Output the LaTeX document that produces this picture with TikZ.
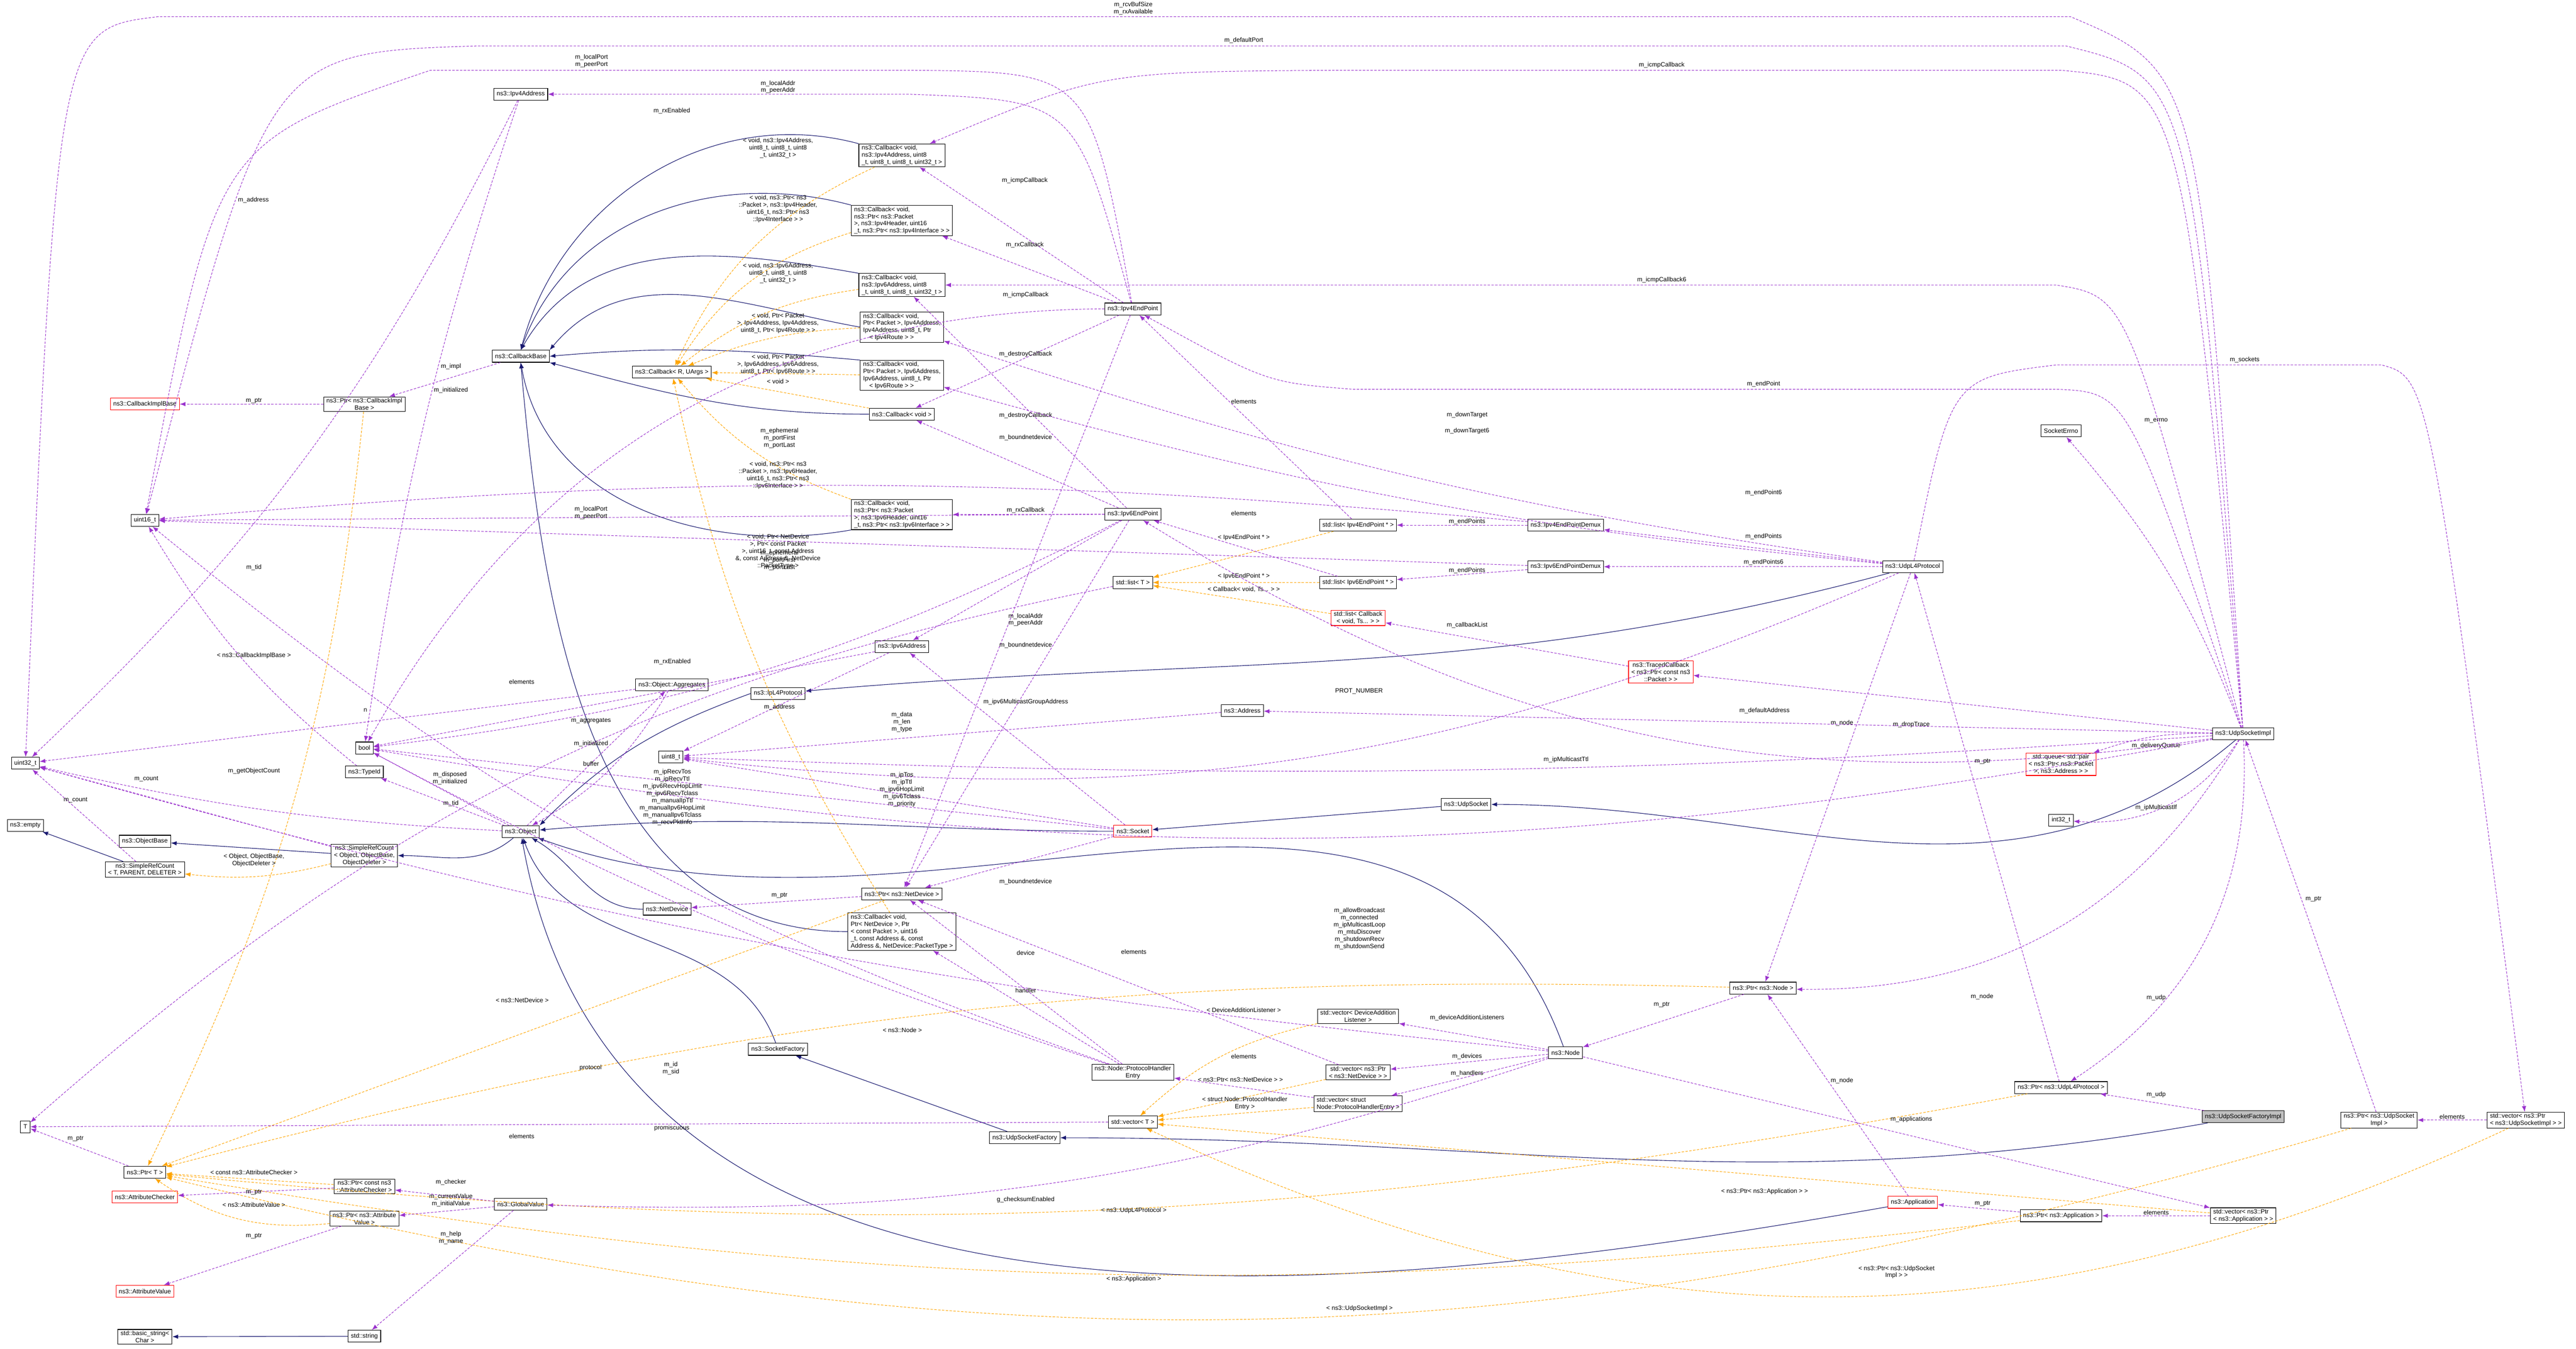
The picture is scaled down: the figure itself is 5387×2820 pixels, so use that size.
\documentclass[tikz,border=0pt]{standalone}
\usepackage{fontspec}
\setmainfont{Liberation Sans}
\usetikzlibrary{arrows.meta,calc}
\definecolor{inhcol}{HTML}{191970}
\definecolor{usecol}{HTML}{9A32CD}
\definecolor{tplcol}{HTML}{FFA500}
\newcommand{\fs}{\fontsize{1.3}{1.5}\selectfont}
% member / template edge with its label put where the diagram prints it
\newcommand{\rel}[6][]{\draw[#2] (#3) to[#1] (#4) node[lbl,at={(#5)}] {#6};}
\begin{document}
\begin{tikzpicture}[x=0.1pt,y=-0.1pt,
  box/.style={draw=black,fill=white,line width=0.12pt,inner xsep=0.6pt,inner ysep=0.3pt,
    minimum height=2.5pt,align=center,font=\fs},
  lbox/.style={box,align=left},
  redbox/.style={box,draw=red},
  lbl/.style={inner sep=0.1pt,align=center,font=\fs},
  inh/.style={draw=inhcol,line width=0.12pt,-{Latex[length=1.2pt,width=0.9pt]}},
  use/.style={draw=usecol,line width=0.11pt,dash pattern=on 0.5pt off 0.3pt,-{Latex[length=1.2pt,width=0.9pt]}},
  tpl/.style={draw=tplcol,line width=0.11pt,dash pattern=on 0.5pt off 0.3pt,-{Latex[length=1.2pt,width=0.9pt]}}]
  \useasboundingbox (0,0) rectangle (5387,2820);
  % classes
  \node[box] (cbbase) at (1089,745) {ns3::CallbackBase};
  \node[redbox] (cibase) at (303,845) {ns3::CallbackImplBase};
  \node[box] (ptrcib) at (762,845) {ns3::Ptr< ns3::CallbackImpl\\Base >};
  \node[box] (ip4addr) at (1089,197) {ns3::Ipv4Address};
  \node[box] (cbru) at (1405,778) {ns3::Callback< R, UArgs >};
  \node[lbox] (cb4icmp) at (1886,325) {ns3::Callback< void,\\ ns3::Ipv4Address, uint8\\\_t, uint8\_t, uint8\_t, uint32\_t >};
  \node[lbox] (cb4rx) at (1886,461) {ns3::Callback< void,\\ ns3::Ptr< ns3::Packet\\ >, ns3::Ipv4Header, uint16\\\_t, ns3::Ptr< ns3::Ipv4Interface > >};
  \node[lbox] (cb6icmp) at (1886,596) {ns3::Callback< void,\\ ns3::Ipv6Address, uint8\\\_t, uint8\_t, uint8\_t, uint32\_t >};
  \node[lbox] (cb4route) at (1886,684) {ns3::Callback< void,\\ Ptr< Packet >, Ipv4Address,\\ Ipv4Address, uint8\_t, Ptr\\ \quad< Ipv4Route > >};
  \node[lbox] (cb6route) at (1886,785) {ns3::Callback< void,\\ Ptr< Packet >, Ipv6Address,\\ Ipv6Address, uint8\_t, Ptr\\ \quad< Ipv6Route > >};
  \node[box] (cbvoid) at (1886,866) {ns3::Callback< void >};
  \node[lbox] (cb6rx) at (1886,1076) {ns3::Callback< void,\\ ns3::Ptr< ns3::Packet\\ >, ns3::Ipv6Header, uint16\\\_t, ns3::Ptr< ns3::Ipv6Interface > >};
  \node[lbox] (cbnet) at (1886,1948) {ns3::Callback< void,\\ Ptr< NetDevice >, Ptr\\< const Packet >, uint16\\\_t, const Address \&, const\\ Address \&, NetDevice::PacketType >};
  \node[box] (ep4) at (2369,646) {ns3::Ipv4EndPoint};
  \node[box] (ep6) at (2369,1075) {ns3::Ipv6EndPoint};
  \node[box] (listt) at (2369,1218) {std::list< T >};
  \node[box] (list4) at (2840,1098) {std::list< Ipv4EndPoint * >};
  \node[box] (demux4) at (3274,1098) {ns3::Ipv4EndPointDemux};
  \node[box] (demux6) at (3274,1185) {ns3::Ipv6EndPointDemux};
  \node[box] (list6) at (2840,1218) {std::list< Ipv6EndPoint * >};
  \node[redbox] (listcb) at (2840,1292) {std::list< Callback\\< void, Ts... > >};
  \node[redbox] (traced) at (3473,1405) {ns3::TracedCallback\\< ns3::Ptr< const ns3\\::Packet > >};
  \node[box] (udpl4) at (4000,1185) {ns3::UdpL4Protocol};
  \node[box] (errno) at (4310,901) {SocketErrno};
  \node[box] (usi) at (4691,1534) {ns3::UdpSocketImpl};
  \node[redbox] (queue) at (4310,1598) {std::queue< std::pair\\< ns3::Ptr< ns3::Packet\\ >, ns3::Address > >};
  \node[box] (int32) at (4310,1715) {int32\_t};
  \node[box] (udpsock) at (3066,1682) {ns3::UdpSocket};
  \node[box] (address) at (2598,1486) {ns3::Address};
  \node[box] (ip6addr) at (1886,1352) {ns3::Ipv6Address};
  \node[box] (ipl4) at (1627,1450) {ns3::IpL4Protocol};
  \node[box] (uint8) at (1403,1583) {uint8\_t};
  \node[box] (aggr) at (1405,1432) {ns3::Object::Aggregates};
  \node[redbox] (socket) at (2369,1738) {ns3::Socket};
  \node[box] (ptrnd) at (1886,1869) {ns3::Ptr< ns3::NetDevice >};
  \node[box] (netdev) at (1395,1901) {ns3::NetDevice};
  \node[box] (uint16) at (303,1088) {uint16\_t};
  \node[box] (uint32) at (53,1596) {uint32\_t};
  \node[box] (bool) at (762,1564) {bool};
  \node[box] (typeid) at (762,1614) {ns3::TypeId};
  \node[box] (object) at (1089,1739) {ns3::Object};
  \node[box] (empty) at (53,1726) {ns3::empty};
  \node[box] (objbase) at (303,1759) {ns3::ObjectBase};
  \node[box] (srct) at (303,1818) {ns3::SimpleRefCount\\< T, PARENT, DELETER >};
  \node[box] (srcobj) at (762,1789) {ns3::SimpleRefCount\\< Object, ObjectBase,\\ ObjectDeleter >};
  \node[box] (T) at (53,2356) {T};
  \node[box] (ptrt) at (303,2451) {ns3::Ptr< T >};
  \node[redbox] (attrchk) at (303,2503) {ns3::AttributeChecker};
  \node[box] (ptrac) at (762,2481) {ns3::Ptr< const ns3\\::AttributeChecker >};
  \node[box] (ptrav) at (762,2548) {ns3::Ptr< ns3::Attribute\\Value >};
  \node[box] (globalv) at (1089,2518) {ns3::GlobalValue};
  \node[redbox] (attrval) at (303,2700) {ns3::AttributeValue};
  \node[box] (bstring) at (303,2795) {std::basic\_string<\\ Char >};
  \node[box] (string) at (762,2794) {std::string};
  \node[box] (sockfac) at (1627,2194) {ns3::SocketFactory};
  \node[box] (phentry) at (2369,2242) {ns3::Node::ProtocolHandler\\Entry};
  \node[box] (vect) at (2369,2346) {std::vector< T >};
  \node[box] (udpsf) at (2143,2379) {ns3::UdpSocketFactory};
  \node[box] (vecdal) at (2840,2125) {std::vector< DeviceAddition\\Listener >};
  \node[box] (node) at (3274,2201) {ns3::Node};
  \node[box] (vecnd) at (2840,2242) {std::vector< ns3::Ptr\\< ns3::NetDevice > >};
  \node[lbox] (vecph) at (2840,2308) {std::vector< struct\\ Node::ProtocolHandlerEntry >};
  \node[box] (ptrnode) at (3687,2066) {ns3::Ptr< ns3::Node >};
  \node[redbox] (app) at (4000,2514) {ns3::Application};
  \node[box] (ptrudp) at (4310,2274) {ns3::Ptr< ns3::UdpL4Protocol >};
  \node[box,fill=black!25] (usfi) at (4691,2335) {ns3::UdpSocketFactoryImpl};
  \node[box] (ptrapp) at (4310,2542) {ns3::Ptr< ns3::Application >};
  \node[lbox] (vecapp) at (4691,2542) {std::vector< ns3::Ptr\\< ns3::Application > >};
  \node[box] (ptrusi) at (4975,2342) {ns3::Ptr< ns3::UdpSocket\\Impl >};
  \node[lbox] (vecusi) at (5282,2342) {std::vector< ns3::Ptr\\< ns3::UdpSocketImpl > >};
  % inheritance
  \draw[inh] (cb4icmp.north west) to[out=165,in=75] (cbbase.north);
  \draw[inh] (cb4rx.north west) to[out=165,in=70] (cbbase.north);
  \draw[inh] (cb6icmp.north west) to[out=170,in=60] (cbbase.north);
  \draw[inh] (cb4route.west) to[out=170,in=50] (cbbase.north east);
  \draw[inh] (cb6route.north west) to[out=175,in=5] (cbbase.east);
  \draw[inh] (cbvoid.west) to[out=180,in=-15] (cbbase.south east);
  \draw[inh] (cb6rx.south west) to[out=190,in=-80] (cbbase.south);
  \draw[inh] (cbnet.west) to[out=180,in=-85] (cbbase.south);
  \draw[inh] (object) to[out=-140,in=0] (srcobj);
  \draw[inh] (srcobj) -- (objbase);
  \draw[inh] (srct) -- (empty);
  \draw[inh] (ipl4.west) to[out=200,in=45] (object.north east);
  \draw[inh] (udpl4) to[out=-165,in=5] (ipl4);
  \draw[inh] (socket) to[out=180,in=5] (object);
  \draw[inh] (udpsock) -- (socket);
  \draw[inh] (usi) to[out=-140,in=0] (udpsock);
  \draw[inh] (netdev) to[out=180,in=-30] (object);
  \draw[inh] (sockfac) to[out=110,in=-70] (object);
  \draw[inh] (udpsf) -- (sockfac);
  \draw[inh] (usfi) to[out=190,in=0] (udpsf);
  \draw[inh] (node) to[out=110,in=-20] (object);
  \draw[inh] (app) to[out=190,in=-80] (object);
  \draw[inh] (string) -- (bstring);
  % template instances
  \rel[bend right=20]{tpl}{cb4icmp}{cbru}{1627,310}{< void, ns3::Ipv4Address,\\uint8\_t, uint8\_t, uint8\\\_t, uint32\_t >}
  \rel[bend right=20]{tpl}{cb4rx}{cbru}{1627,437}{< void, ns3::Ptr< ns3\\::Packet >, ns3::Ipv4Header,\\uint16\_t, ns3::Ptr< ns3\\::Ipv4Interface > >}
  \rel[bend right=15]{tpl}{cb6icmp}{cbru}{1627,571}{< void, ns3::Ipv6Address,\\uint8\_t, uint8\_t, uint8\\\_t, uint32\_t >}
  \rel[bend right=10]{tpl}{cb4route}{cbru}{1627,676}{< void, Ptr< Packet\\>, Ipv4Address, Ipv4Address,\\uint8\_t, Ptr< Ipv4Route > >}
  \rel{tpl}{cb6route}{cbru}{1627,762}{< void, Ptr< Packet\\>, Ipv6Address, Ipv6Address,\\uint8\_t, Ptr< Ipv6Route > >}
  \rel{tpl}{cbvoid}{cbru}{1627,797}{< void >}
  \rel[bend left=15]{tpl}{cb6rx}{cbru}{1627,994}{< void, ns3::Ptr< ns3\\::Packet >, ns3::Ipv6Header,\\uint16\_t, ns3::Ptr< ns3\\::Ipv6Interface > >}
  \rel[bend left=10]{tpl}{cbnet}{cbru}{1627,1153}{< void, Ptr< NetDevice\\>, Ptr< const Packet\\>, uint16\_t, const Address\\\&, const Address \&, NetDevice\\::PacketType >}
  \rel[bend left=10]{tpl}{ptrcib}{ptrt}{531,1371}{< ns3::CallbackImplBase >}
  \rel[bend left=10]{tpl}{srcobj}{srct}{531,1799}{< Object, ObjectBase,\\ObjectDeleter >}
  \rel{tpl}{ptrnd}{ptrt}{1092,2091}{< ns3::NetDevice >}
  \rel{tpl}{ptrac}{ptrt}{531,2451}{< const ns3::AttributeChecker >}
  \rel[bend left=20]{tpl}{ptrav}{ptrt}{531,2519}{< ns3::AttributeValue >}
  \rel[bend right=8]{tpl}{ptrnode}{ptrt}{1887,2154}{< ns3::Node >}
  \rel[bend left=8]{tpl}{ptrudp}{ptrt}{2371,2531}{< ns3::UdpL4Protocol >}
  \rel[bend left=8]{tpl}{ptrapp}{ptrt}{2371,2675}{< ns3::Application >}
  \rel[bend left=15]{tpl}{ptrusi}{ptrt}{2843,2736}{< ns3::UdpSocketImpl >}
  \rel[bend left=25]{tpl}{vecusi}{vect}{3966,2660}{< ns3::Ptr< ns3::UdpSocket\\Impl > >}
  \rel{tpl}{vecapp}{vect}{3690,2491}{< ns3::Ptr< ns3::Application > >}
  \rel[bend right=15]{tpl}{vecdal}{vect}{2601,2112}{< DeviceAdditionListener >}
  \rel{tpl}{vecnd}{vect}{2594,2257}{< ns3::Ptr< ns3::NetDevice > >}
  \rel{tpl}{vecph}{vect}{2603,2307}{< struct Node::ProtocolHandler\\Entry >}
  \rel{tpl}{list4}{listt}{2601,1124}{< Ipv4EndPoint * >}
  \rel{tpl}{list6}{listt}{2601,1205}{< Ipv6EndPoint * >}
  \rel{tpl}{listcb}{listt}{2601,1232}{< Callback< void, Ts... > >}
  % members
  \rel{use}{ptrcib}{cibase}{531,838}{m\_ptr}
  \rel{use}{cbbase}{ptrcib}{943,766}{m\_impl}
  \rel[bend left=10]{use}{ip4addr}{uint32}{530,418}{m\_address}
  \rel[bend right=5]{use}{ip4addr}{bool}{943,816}{m\_initialized}
  \rel[bend right=30]{use}{ep4}{bool}{1405,232}{m\_rxEnabled}
  \rel{use}{ep4}{cb4icmp}{2143,378}{m\_icmpCallback}
  \rel{use}{ep4}{cb4rx}{2143,512}{m\_rxCallback}
  \rel{use}{ep4}{cbvoid}{2145,741}{m\_destroyCallback}
  \rel{use}{ep4}{ptrnd}{2145,915}{m\_boundnetdevice}
  \rel{use}{ep6}{cb6icmp}{2145,617}{m\_icmpCallback}
  \rel{use}{ep6}{cb6rx}{2145,1067}{m\_rxCallback}
  \rel{use}{ep6}{cbvoid}{2145,869}{m\_destroyCallback}
  \rel{use}{ep6}{ptrnd}{2145,1349}{m\_boundnetdevice}
  \rel{use}{ep6}{ip6addr}{2145,1296}{m\_localAddr\\m\_peerAddr}
  \rel{use}{ep6}{uint16}{1236,1072}{m\_localPort\\m\_peerPort}
  \rel[bend left=10]{use}{ep6}{bool}{1406,1384}{m\_rxEnabled}
  \rel{use}{list4}{ep4}{2601,839}{elements}
  \rel{use}{list6}{ep6}{2601,1073}{elements}
  \rel{use}{demux4}{list4}{3068,1091}{m\_endPoints}
  \rel{use}{demux6}{list6}{3068,1193}{m\_endPoints}
  \rel[bend right=5]{use}{demux4}{uint16}{1630,916}{m\_ephemeral\\m\_portFirst\\m\_portLast}
  \rel{use}{demux6}{uint16}{1630,1172}{m\_ephemeral\\m\_portFirst\\m\_portLast}
  \rel{use}{udpl4}{demux4}{3688,1122}{m\_endPoints}
  \rel{use}{udpl4}{demux6}{3688,1176}{m\_endPoints6}
  \rel[bend left=5]{use}{udpl4}{cb4route}{3068,868}{m\_downTarget}
  \rel[bend left=5]{use}{udpl4}{cb6route}{3068,901}{m\_downTarget6}
  \rel[bend left=15]{use}{udpl4}{uint8}{2842,1445}{PROT\_NUMBER}
  \rel{use}{udpl4}{ptrnode}{3852,1512}{m\_node}
  \rel{use}{traced}{listcb}{3068,1307}{m\_callbackList}
  \rel{use}{usi}{traced}{3997,1515}{m\_dropTrace}
  \rel{use}{usi}{address}{3690,1486}{m\_defaultAddress}
  \rel[bend left=3]{use}{usi}{uint8}{3275,1588}{m\_ipMulticastTtl}
  \rel[bend left=30]{use}{usi}{int32}{4509,1689}{m\_ipMulticastIf}
  \rel[bend right=10]{use}{usi}{queue}{4509,1559}{m\_deliveryQueue}
  \rel[bend right=10]{use}{usi}{errno}{4509,880}{m\_errno}
  \rel[bend left=20]{use}{usi}{ep6}{3688,1030}{m\_endPoint6}
  \rel[bend left=30]{use}{usi}{ptrudp}{4509,2086}{m\_udp}
  \rel{use}{usfi}{ptrudp}{4509,2289}{m\_udp}
  \rel[bend left=30]{use}{usi}{ptrnode}{4145,2084}{m\_node}
  \rel[bend left=10]{use}{usi}{bool}{2843,1942}{m\_allowBroadcast\\m\_connected\\m\_ipMulticastLoop\\m\_mtuDiscover\\m\_shutdownRecv\\m\_shutdownSend}
  \rel{use}{ptrudp}{udpl4}{4146,1592}{m\_ptr}
  \rel{use}{ptrusi}{usi}{4838,1880}{m\_ptr}
  \rel{use}{vecusi}{ptrusi}{5128,2335}{elements}
  \rel{use}{ptrapp}{app}{4146,2517}{m\_ptr}
  \rel{use}{vecapp}{ptrapp}{4509,2535}{elements}
  \rel{use}{node}{vecapp}{3997,2341}{m\_applications}
  \rel{use}{app}{ptrnode}{3852,2260}{m\_node}
  \rel{use}{ptrnode}{node}{3475,2101}{m\_ptr}
  \rel{use}{node}{vecdal}{3068,2128}{m\_deviceAdditionListeners}
  \rel{use}{node}{vecnd}{3068,2209}{m\_devices}
  \rel{use}{node}{vecph}{3068,2245}{m\_handlers}
  \rel[bend left=5]{use}{node}{uint32}{1403,2234}{m\_id\\m\_sid}
  \rel[bend left=10]{use}{node}{globalv}{2145,2509}{g\_checksumEnabled}
  \rel{use}{vecnd}{ptrnd}{2371,1990}{elements}
  \rel{use}{vecph}{phentry}{2601,2209}{elements}
  \rel{use}{phentry}{cbnet}{2145,2071}{handler}
  \rel{use}{phentry}{ptrnd}{2145,1992}{device}
  \rel[bend left=5]{use}{phentry}{bool}{1405,2359}{promiscuous}
  \rel[bend left=10]{use}{phentry}{uint16}{1235,2233}{protocol}
  \rel{use}{vect}{T}{1091,2376}{elements}
  \rel[bend right=15]{use}{listt}{T}{1091,1426}{elements}
  \rel{use}{ptrt}{T}{158,2381}{m\_ptr}
  \rel{use}{ptrac}{attrchk}{531,2493}{m\_ptr}
  \rel{use}{ptrav}{attrval}{531,2584}{m\_ptr}
  \rel{use}{globalv}{ptrac}{943,2472}{m\_checker}
  \rel{use}{globalv}{ptrav}{943,2510}{m\_currentValue\\m\_initialValue}
  \rel{use}{globalv}{string}{943,2588}{m\_help\\m\_name}
  \rel{use}{ptrnd}{netdev}{1630,1872}{m\_ptr}
  \rel{use}{socket}{ptrnd}{2145,1844}{m\_boundnetdevice}
  \rel{use}{socket}{ip6addr}{2145,1468}{m\_ipv6MulticastGroupAddress}
  \rel{use}{socket}{uint8}{1886,1651}{m\_ipTos\\m\_ipTtl\\m\_ipv6HopLimit\\m\_ipv6Tclass\\m\_priority}
  \rel{use}{socket}{bool}{1406,1667}{m\_ipRecvTos\\m\_ipRecvTtl\\m\_ipv6RecvHopLimit\\m\_ipv6RecvTclass\\m\_manualIpTtl\\m\_manualIpv6HopLimit\\m\_manualIpv6Tclass\\m\_recvPktInfo}
  \rel{use}{address}{uint8}{1886,1510}{m\_data\\m\_len\\m\_type}
  \rel{use}{ip6addr}{uint8}{1630,1479}{m\_address}
  \rel{use}{ip6addr}{bool}{1236,1555}{m\_initialized}
  \rel{use}{object}{aggr}{1236,1507}{m\_aggregates}
  \rel[bend left=15]{use}{aggr}{object}{1236,1597}{buffer}
  \rel{use}{aggr}{uint32}{764,1485}{n}
  \rel{use}{object}{bool}{941,1627}{m\_disposed\\m\_initialized}
  \rel{use}{object}{typeid}{943,1680}{m\_tid}
  \rel[bend left=5]{use}{object}{uint32}{531,1612}{m\_getObjectCount}
  \rel{use}{srcobj}{uint32}{306,1629}{m\_count}
  \rel{use}{srct}{uint32}{158,1673}{m\_count}
  \rel[bend left=10]{use}{typeid}{uint16}{531,1187}{m\_tid}
  % long members routed over the top
  \draw[use] (usi) .. controls (4600,150) .. (4330,35) -- (330,35) .. controls (120,60) .. (uint32)
    node[lbl,at={(2370,18)}] {m\_rcvBufSize\\m\_rxAvailable};
  \draw[use] (usi) .. controls (4580,160) .. (4320,96) -- (1000,96) .. controls (560,110) .. (uint16)
    node[lbl,at={(2601,84)}] {m\_defaultPort};
  \draw[use] (usi) .. controls (4560,170) .. (4310,147) -- (2800,147) .. controls (2300,150) .. (cb4icmp)
    node[lbl,at={(3475,136)}] {m\_icmpCallback};
  \draw[use] (usi) .. controls (4450,620) .. (4300,596) -- (cb6icmp)
    node[lbl,at={(3475,586)}] {m\_icmpCallback6};
  \draw[use] (ep4) .. controls (2280,150) .. (1900,147) -- (900,147) .. controls (450,300) .. (uint16)
    node[lbl,at={(1237,128)}] {m\_localPort\\m\_peerPort};
  \draw[use] (ep4) .. controls (2250,210) .. (1900,197) -- (ip4addr)
    node[lbl,at={(1627,182)}] {m\_localAddr\\m\_peerAddr};
  \draw[use] (udpl4) .. controls (4080,790) .. (4300,763) -- (4980,763) .. controls (5080,790) .. (vecusi)
    node[lbl,at={(4694,752)}] {m\_sockets};
  \draw[use] (usi) .. controls (4450,820) .. (4300,814) -- (2830,814) .. controls (2650,800) .. (ep4)
    node[lbl,at={(3688,803)}] {m\_endPoint};
\end{tikzpicture}
\end{document}
